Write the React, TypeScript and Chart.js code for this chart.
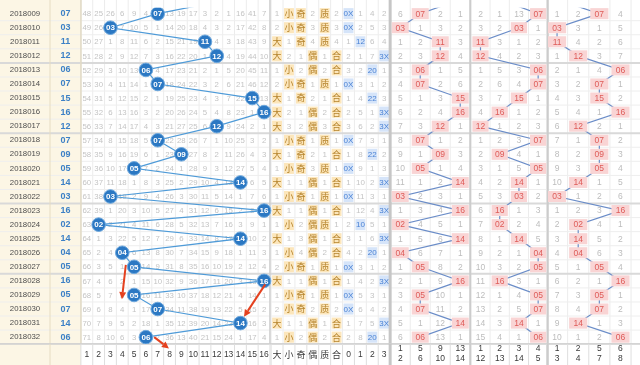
import React, { useEffect, useRef } from 'react';
import { Chart, registerables } from 'chart.js';

Chart.register(...registerables);

// ---------- data ----------
const prevPeriod = '2018008';
const prevNumber = 13;
const periods = ['2018009','2018010','2018011','2018012','2018013','2018014','2018015','2018016','2018017','2018018','2018019','2018020','2018021','2018022','2018023','2018024','2018025','2018026','2018027','2018028','2018029','2018030','2018031','2018032'];
const numbers = [7,3,11,12,6,7,15,16,12,7,9,5,14,3,16,2,14,4,5,16,5,7,14,6];
const ballTicks = ['1','2','3','4','5','6','7','8','9','10','11','12','13','14','15','16'];
const attrTicks = ['大','小','奇','偶','质','合','0','1','2','3'];
const g1Sets = [[1,2,3,4],[5,6,7,8],[9,10,11,12],[13,14,15,16]];
const g2Sets = [[1,12,11,10],[2,13,16,9],[3,14,15,8],[4,5,6,7]];
const g3Sets = [[1,3,11,13],[2,4,12,14],[5,7,9,15],[6,8,10,16]];

// omission counts per number column (0 = drawn this period)
const omit = [
  [48,25,26,6,9,4,0,13,19,17,3,2,1,16,41,7],
  [49,26,0,7,10,5,1,14,20,18,4,3,2,17,42,8],
  [50,27,1,8,11,6,2,15,21,19,0,4,3,18,43,9],
  [51,28,2,9,12,7,3,16,22,20,1,0,4,19,44,10],
  [52,29,3,10,13,0,4,17,23,21,2,1,5,20,45,11],
  [53,30,4,11,14,1,0,18,24,22,3,2,6,21,46,12],
  [54,31,5,12,15,2,1,19,25,23,4,3,7,22,0,13],
  [55,32,6,13,16,3,2,20,26,24,5,4,8,23,1,0],
  [56,33,7,14,17,4,3,21,27,25,6,0,9,24,2,1],
  [57,34,8,15,18,5,0,22,28,26,7,1,10,25,3,2],
  [58,35,9,16,19,6,1,23,0,27,8,2,11,26,4,3],
  [59,36,10,17,0,7,2,24,1,28,9,3,12,27,5,4],
  [60,37,11,18,1,8,3,25,2,29,10,4,13,0,6,5],
  [61,38,0,19,2,9,4,26,3,30,11,5,14,1,7,6],
  [62,39,1,20,3,10,5,27,4,31,12,6,15,2,8,0],
  [63,0,2,21,4,11,6,28,5,32,13,7,16,3,9,1],
  [64,1,3,22,5,12,7,29,6,33,14,8,17,0,10,2],
  [65,2,4,0,6,13,8,30,7,34,15,9,18,1,11,3],
  [66,3,5,1,0,14,9,31,8,35,16,10,19,2,12,4],
  [67,4,6,2,1,15,10,32,9,36,17,11,20,3,13,0],
  [68,5,7,3,0,16,11,33,10,37,18,12,21,4,14,1],
  [69,6,8,4,1,17,0,34,11,38,19,13,22,5,15,2],
  [70,7,9,5,2,18,1,35,12,39,20,14,23,0,16,3],
  [71,8,10,6,3,0,2,36,13,40,21,15,24,1,17,4],
];

// 大 小 奇 偶 质 合 0 1 2 3
const attrs = [
  ['1','小','奇','2','质','2','0X','1','4','2'],
  ['2','小','奇','3','质','3','0X','2','5','3'],
  ['大','1','奇','4','质','4','1','12','6','4'],
  ['大','2','1','偶','1','合','2','1','7','3X'],
  ['1','小','2','偶','2','合','3','2','20','1'],
  ['2','小','奇','1','质','1','0X','3','1','2'],
  ['大','1','奇','2','1','合','1','4','22','3'],
  ['大','2','1','偶','2','合','2','5','1','3X'],
  ['大','3','2','偶','3','合','3','6','2','3X'],
  ['1','小','奇','1','质','1','0X','7','3','1'],
  ['大','1','奇','2','1','合','1','8','22','2'],
  ['1','小','奇','3','质','1','0X','9','1','3'],
  ['大','1','1','偶','1','合','1','10','2','3X'],
  ['1','小','奇','1','质','1','0X','11','3','1'],
  ['大','1','1','偶','1','合','1','12','4','3X'],
  ['1','小','2','偶','质','1','2','10','5','1'],
  ['大','1','3','偶','1','合','3','1','6','3X'],
  ['1','小','4','偶','2','合','4','2','20','1'],
  ['2','小','奇','1','质','1','0X','3','1','2'],
  ['大','1','1','偶','1','合','1','4','2','3X'],
  ['1','小','奇','1','质','1','0X','5','3','1'],
  ['2','小','奇','2','质','2','0X','6','4','2'],
  ['大','1','1','偶','1','合','1','7','5','3X'],
  ['1','小','2','偶','2','合','2','8','20','1'],
];
const classCol = [0,0,1,3,2,0,2,3,3,0,2,0,3,0,3,1,3,2,0,3,0,0,3,2];

const g1Omit = [
  [6,0,2,1],[0,1,3,2],[1,2,0,3],[2,3,0,4],[3,0,1,5],[4,0,2,6],[5,1,3,0],[6,2,4,0],
  [7,3,0,1],[8,0,1,2],[9,1,0,3],[10,0,1,4],[11,1,2,0],[0,2,3,1],[1,3,4,0],[0,4,5,1],
  [1,5,6,0],[0,6,7,1],[1,0,8,2],[2,1,9,0],[3,0,10,1],[4,0,11,2],[5,1,12,0],[6,0,13,1],
];
const g2Omit = [
  [2,1,13,0],[3,2,0,1],[0,3,1,2],[0,4,2,3],[1,5,3,0],[2,6,4,0],[3,7,0,1],[4,0,1,2],
  [0,1,2,3],[1,2,3,0],[2,0,4,1],[3,1,5,0],[4,2,0,1],[5,3,0,2],[6,0,1,3],[7,0,2,4],
  [8,1,0,5],[9,2,1,0],[10,3,2,0],[11,0,3,1],[12,1,4,0],[13,2,5,0],[14,3,0,1],[15,4,1,0],
];
const g3Omit = [
  [1,2,0,4],[0,3,1,5],[0,4,2,6],[1,0,3,7],[2,1,4,0],[3,2,0,1],[4,3,0,2],[5,4,1,0],
  [6,0,2,1],[7,1,0,2],[8,2,0,3],[9,3,0,4],[10,0,1,5],[0,1,2,6],[1,2,3,0],[2,0,4,1],
  [3,0,5,2],[4,0,6,3],[5,1,0,4],[6,2,1,0],[7,3,0,1],[8,4,0,2],[9,0,1,3],[10,1,2,0],
];

// red annotation arrows, in (number column, row) units
const arrows = [
  { from: [4.3, 18.86], to: [3.97, 21.3] },
  { from: [16.1, 20.25], to: [14.3, 22.55] },
  { from: [6.7, 24.0], to: [7.95, 24.8] },
];

// ---------- layout / style ----------
const PERIOD_W = 50;
const FOOT_H = 21;
const F_NUM = '"Liberation Sans", Arial, sans-serif';
const F_CJK = '"Noto Sans CJK SC", "Noto Sans", sans-serif';

const setCol = (sets: number[][], n: number) => sets.findIndex(s => s.includes(n)) + 1;
const pad = (n: number) => String(n).padStart(2, '0');

const groups = [
  { id: 'xg1', sets: g1Sets, om: g1Omit },
  { id: 'xg2', sets: g2Sets, om: g2Omit },
  { id: 'xg3', sets: g3Sets, om: g3Omit },
];

function txt(ctx: CanvasRenderingContext2D, s: string, x: number, y: number, font: string, color: string) {
  ctx.font = font;
  ctx.fillStyle = color;
  ctx.textAlign = 'center';
  ctx.textBaseline = 'middle';
  ctx.fillText(s, x, y);
}
function vline(ctx: CanvasRenderingContext2D, x: number, y0: number, y1: number, color: string, w: number) {
  ctx.strokeStyle = color; ctx.lineWidth = w;
  ctx.beginPath(); ctx.moveTo(x, y0); ctx.lineTo(x, y1); ctx.stroke();
}
function hline(ctx: CanvasRenderingContext2D, y: number, x0: number, x1: number, color: string, w: number) {
  ctx.strokeStyle = color; ctx.lineWidth = w;
  ctx.beginPath(); ctx.moveTo(x0, y); ctx.lineTo(x1, y); ctx.stroke();
}

const tablePlugin = {
  id: 'lotteryTable',
  beforeDatasetsDraw(chart: any) {
    const ctx: CanvasRenderingContext2D = chart.ctx;
    const sc = chart.scales;
    const xo = sc.xo, xa = sc.xa, y = sc.y;
    const W = chart.width, H = chart.height;
    const bottom = chart.chartArea.bottom;
    const numRight = xo.getPixelForValue(0.5);
    ctx.save();
    ctx.fillStyle = '#ffffff';
    ctx.fillRect(0, 0, W, H);
    ctx.fillStyle = '#fcf6e5';
    ctx.fillRect(0, 0, numRight, H);

    for (let v = 0.5; v <= 16.5; v += 1) vline(ctx, xo.getPixelForValue(v), 0, H, '#ececec', 1);
    for (let v = 0.5; v <= 10.5; v += 1) vline(ctx, xa.getPixelForValue(v), 0, H, '#ececec', 1);
    groups.forEach(g => {
      for (let v = 0.5; v <= 4.5; v += 1) vline(ctx, sc[g.id].getPixelForValue(v), 0, H, '#ececec', 1);
    });

    periods.forEach((p, i) => {
      const r = i + 1;
      const yb = y.getPixelForValue(r + 0.5);
      const thick = Number(p) % 5 === 2;
      hline(ctx, yb, 0, W, thick ? '#d9d9d9' : '#eeeeee', thick ? 2 : 1);
    });

    const aw = xa.getPixelForValue(2) - xa.getPixelForValue(1);
    periods.forEach((p, i) => {
      const r = i + 1;
      const yt = y.getPixelForValue(r - 0.5), yb = y.getPixelForValue(r + 0.5);
      attrs[i].forEach((t, k) => {
        const hit = k < 6 ? t === attrTicks[k] : classCol[i] === k - 6;
        if (hit) {
          ctx.fillStyle = k < 6 ? '#fce6bb' : '#d5e4f9';
          ctx.fillRect(xa.getPixelForValue(k + 0.5) + 1, yt + 1.5, aw - 2, yb - yt - 3);
        }
      });
    });

    periods.forEach((p, i) => {
      const r = i + 1;
      const yc = y.getPixelForValue(r);
      txt(ctx, p, PERIOD_W / 2, yc, `7.8px ${F_NUM}`, '#4d4d4d');
      txt(ctx, pad(numbers[i]), (PERIOD_W + numRight) / 2, yc, `bold 9px ${F_NUM}`, '#3c80c6');
      omit[i].forEach((v, c) => {
        if (v !== 0) txt(ctx, String(v), xo.getPixelForValue(c + 1), yc + 0.5, `7.8px ${F_NUM}`, '#c4c4c4');
      });
      attrs[i].forEach((t, k) => {
        const xc = xa.getPixelForValue(k + 1);
        if (k < 6 && t === attrTicks[k]) txt(ctx, t, xc, yc, `9px ${F_CJK}`, '#b5832c');
        else if (k >= 6 && classCol[i] === k - 6) txt(ctx, t, xc, yc + 0.5, `8px ${F_NUM}`, '#4a82d4');
        else txt(ctx, t, xc, yc + 0.5, `8px ${F_NUM}`, '#c4c4c4');
      });
      groups.forEach(g => {
        g.om[i].forEach((v, c) => {
          if (v !== 0) txt(ctx, String(v), sc[g.id].getPixelForValue(c + 1), yc + 0.5, `8.5px ${F_NUM}`, '#bdbdbd');
        });
      });
    });

    vline(ctx, PERIOD_W, 0, H, '#e6dcc2', 1);
    vline(ctx, numRight, 0, H, '#e2dac4', 1.5);
    vline(ctx, xo.getPixelForValue(16.5), 0, H, '#cfcfcf', 1.5);
    vline(ctx, xa.getPixelForValue(10.5), 0, H, '#c6c6c6', 3);
    vline(ctx, sc.xg1.getPixelForValue(4.5), 0, H, '#cccccc', 2);
    vline(ctx, sc.xg2.getPixelForValue(4.5), 0, H, '#cccccc', 2);

    // footer
    ctx.fillStyle = '#ffffff';
    ctx.fillRect(numRight, bottom, W - numRight, H - bottom);
    ctx.fillStyle = '#fcf6e5';
    ctx.fillRect(0, bottom, numRight, H - bottom);
    hline(ctx, bottom, 0, W, '#cfcfcf', 1.5);
    for (let v = 0.5; v <= 16.5; v += 1) vline(ctx, xo.getPixelForValue(v), bottom, H, '#dedede', 1);
    for (let v = 0.5; v <= 10.5; v += 1) vline(ctx, xa.getPixelForValue(v), bottom, H, '#dedede', 1);
    groups.forEach(g => {
      for (let v = 0.5; v <= 4.5; v += 1) vline(ctx, sc[g.id].getPixelForValue(v), bottom, H, '#dedede', 1);
    });
    vline(ctx, PERIOD_W, bottom, H, '#e6dcc2', 1);
    vline(ctx, xa.getPixelForValue(10.5), bottom, H, '#c6c6c6', 3);
    vline(ctx, sc.xg1.getPixelForValue(4.5), bottom, H, '#cccccc', 2);
    vline(ctx, sc.xg2.getPixelForValue(4.5), bottom, H, '#cccccc', 2);
    const fy = bottom + 11;
    ballTicks.forEach((t, c) => txt(ctx, t, xo.getPixelForValue(c + 1), fy, `8.5px ${F_NUM}`, '#3a3a3a'));
    attrTicks.forEach((t, k) => txt(ctx, t, xa.getPixelForValue(k + 1), fy, k < 6 ? `9px ${F_CJK}` : `8.5px ${F_NUM}`, '#3a3a3a'));
    groups.forEach(g => {
      g.sets.forEach((s, c) => {
        s.forEach((n, j) => txt(ctx, String(n), sc[g.id].getPixelForValue(c + 1), bottom + 4.5 + j * 10.5, `8.5px ${F_NUM}`, '#3a3a3a'));
      });
    });
    ctx.restore();
  },
  afterDatasetsDraw(chart: any) {
    const ctx: CanvasRenderingContext2D = chart.ctx;
    const sc = chart.scales;
    const xo = sc.xo, y = sc.y;
    ctx.save();
    periods.forEach((p, i) => {
      const r = i + 1;
      const yc = y.getPixelForValue(r);
      const yt = y.getPixelForValue(r - 0.5), yb = y.getPixelForValue(r + 0.5);
      const n = numbers[i];
      groups.forEach(g => {
        const s = sc[g.id];
        const c = setCol(g.sets, n);
        const x0 = s.getPixelForValue(c - 0.5), x1 = s.getPixelForValue(c + 0.5);
        ctx.fillStyle = '#f9d4d4';
        ctx.fillRect(x0 + 1.5, yt + 1.5, x1 - x0 - 3, yb - yt - 3);
        txt(ctx, pad(n), (x0 + x1) / 2, yc + 0.5, `8.5px ${F_NUM}`, '#de5b58');
      });
      txt(ctx, pad(n), xo.getPixelForValue(n), yc + 0.5, `bold 8px ${F_NUM}`, '#ffffff');
    });
    ctx.strokeStyle = '#e4411f';
    ctx.fillStyle = '#e4411f';
    ctx.lineWidth = 2;
    arrows.forEach(a => {
      const x0 = xo.getPixelForValue(a.from[0]), y0 = y.getPixelForValue(a.from[1]);
      const x1 = xo.getPixelForValue(a.to[0]), y1 = y.getPixelForValue(a.to[1]);
      const ang = Math.atan2(y1 - y0, x1 - x0);
      const hl = 7, hw = 3.5;
      const bx = x1 - hl * Math.cos(ang), by = y1 - hl * Math.sin(ang);
      ctx.beginPath(); ctx.moveTo(x0, y0); ctx.lineTo(bx, by); ctx.stroke();
      ctx.beginPath();
      ctx.moveTo(x1, y1);
      ctx.lineTo(bx + hw * Math.sin(ang), by - hw * Math.cos(ang));
      ctx.lineTo(bx - hw * Math.sin(ang), by + hw * Math.cos(ang));
      ctx.closePath(); ctx.fill();
    });
    ctx.restore();
  },
};

export default function App() {
  const ref = useRef<HTMLCanvasElement>(null);
  useEffect(() => {
    const canvas = ref.current;
    if (!canvas) return;
    const allNums = [prevNumber, ...numbers];
    const pts = (f: (n: number) => number) => allNums.map((n, i) => ({ x: f(n), y: i }));
    const lineDs = (id: string, f: (n: number) => number) => ({
      label: id, data: pts(f), xAxisID: id, yAxisID: 'y',
      borderColor: '#6b8dc8', borderWidth: 1.2, pointRadius: 0, tension: 0, fill: false,
    });
    const lin = (axis: string, min: number, max: number, reverse = false) => ({
      type: 'linear' as const, axis, display: false, min, max, reverse, bounds: 'data' as const, grace: 0,
    });
    const chart = new Chart(canvas, {
      type: 'line',
      data: {
        datasets: [
          {
            label: prevPeriod, data: pts(n => n), xAxisID: 'xo', yAxisID: 'y',
            borderColor: '#4f9bd8', borderWidth: 1.2, tension: 0, fill: false,
            pointRadius: 6.8, pointHoverRadius: 6.8,
            pointBackgroundColor: '#2b78c3', pointBorderColor: '#6ea8dd', pointBorderWidth: 1,
          },
          lineDs('xg1', n => setCol(g1Sets, n)),
          lineDs('xg2', n => setCol(g2Sets, n)),
          lineDs('xg3', n => setCol(g3Sets, n)),
        ] as any,
      },
      options: {
        responsive: false,
        animation: false,
        devicePixelRatio: 1,
        events: [],
        layout: { padding: { left: 0, right: 0, top: 0, bottom: FOOT_H } },
        plugins: { legend: { display: false }, tooltip: { enabled: false } },
        scales: {
          xo: lin('x', -5.689, 47.16),
          xa: lin('x', -21.623, 30.836),
          xg1: lin('x', -18.622, 12.598),
          xg2: lin('x', -23.594, 8.893),
          xg3: lin('x', -24.98, 4.554),
          y: lin('y', 0.5831, 24.487, true),
        } as any,
      },
      plugins: [tablePlugin],
    });
    return () => chart.destroy();
  }, []);
  return (
    <div style={{ position: 'fixed', left: 0, top: 0, width: 640, height: 365, background: '#fff' }}>
      <canvas ref={ref} width={640} height={365} style={{ display: 'block', width: 640, height: 365 }} />
    </div>
  );
}
